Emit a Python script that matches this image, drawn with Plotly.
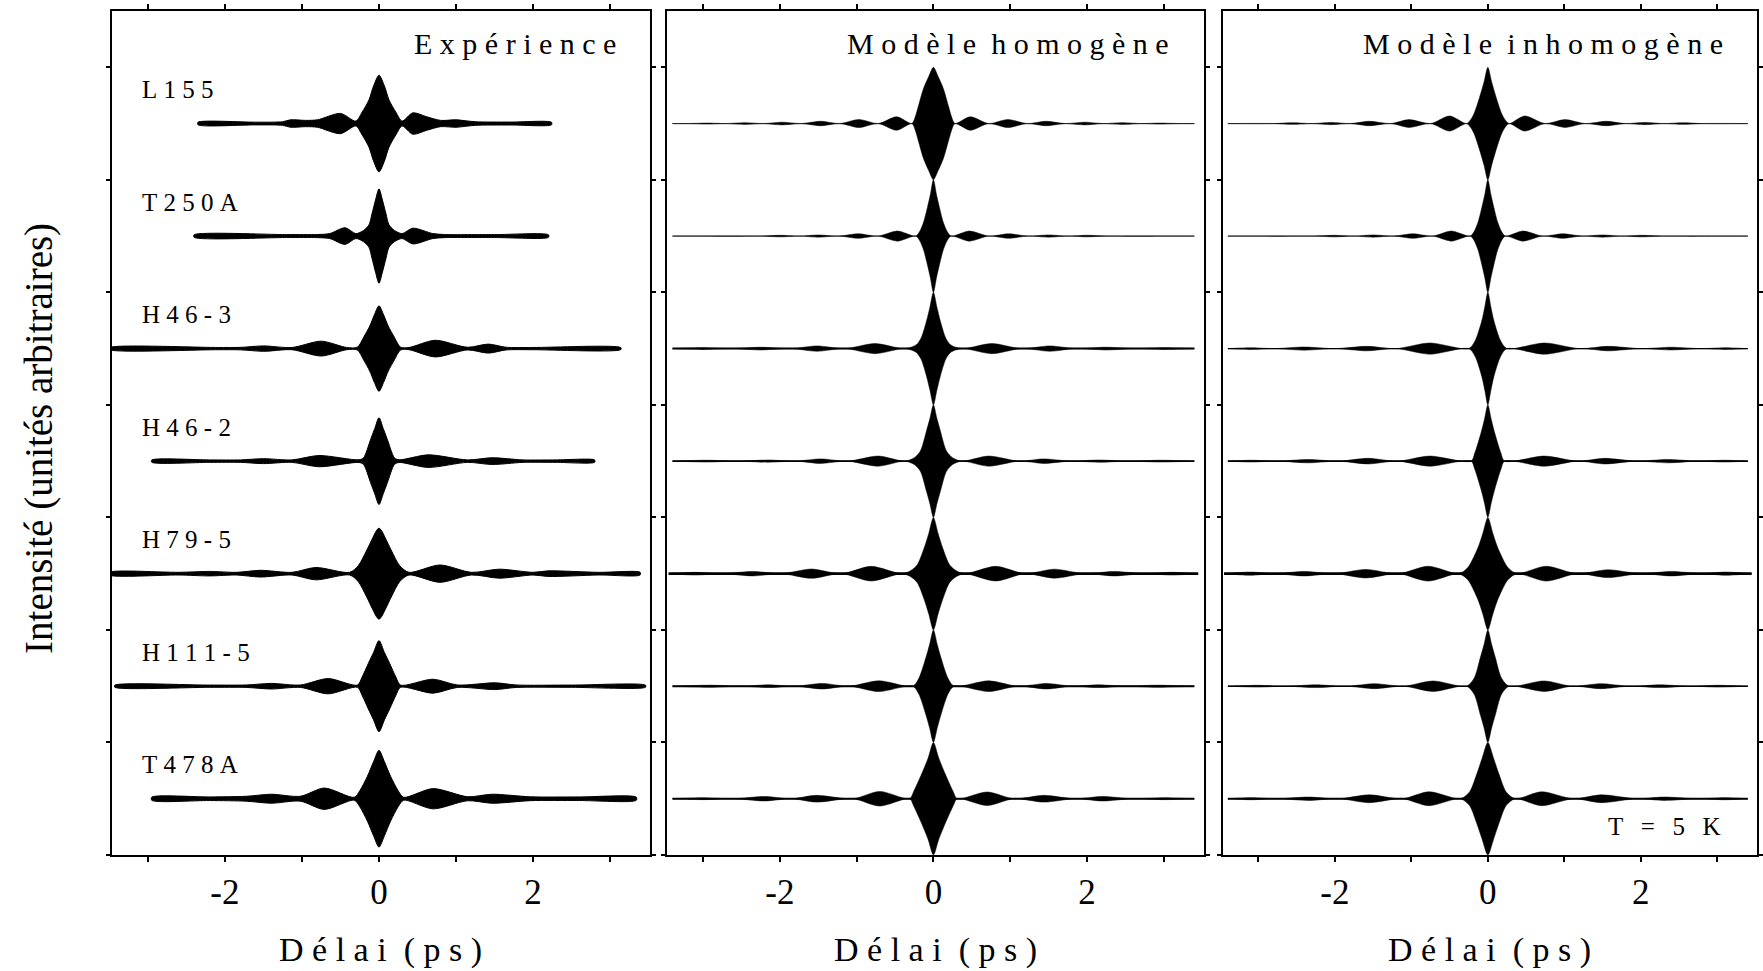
import plotly.graph_objects as go

# ---------------------------------------------------------------------------
# Data: envelopes of the interferograms.
# Each knot is (delay in ps, half-amplitude in units of row spacing).
# ---------------------------------------------------------------------------

SAMPLES = ["L155", "T250A", "H46-3", "H46-2", "H79-5", "H111-5", "T478A"]
PANEL_TITLES = ["Expérience", "Modèle homogène", "Modèle inhomogène"]
X_TICKS = [-3, -2, -1, 0, 1, 2, 3]
X_TICK_TEXT = ["", "-2", "", "0", "", "2", ""]
X_TITLE = "Délai (ps)"
Y_TITLE = "Intensité (unités arbitraires)"
TEMP_LABEL = "T = 5 K"

# -- Expérience --------------------------------------------------------------
EXP_L155 = [(-2.35, 0.011), (-1.6, 0.012), (-1.25, 0.016), (-1.15, 0.033), (-0.95, 0.028),
            (-0.8, 0.033), (-0.5, 0.09), (-0.3, 0.022), (-0.22, 0.1), (-0.13, 0.21),
            (-0.07, 0.335), (0.0, 0.43), (0.07, 0.335), (0.13, 0.21), (0.22, 0.1),
            (0.3, 0.022), (0.44, 0.095), (0.62, 0.06), (0.8, 0.028), (1.0, 0.033),
            (1.25, 0.016), (1.7, 0.013), (2.24, 0.011)]
EXP_T250A = [(-2.4, 0.011), (-1.2, 0.013), (-0.8, 0.014), (-0.64, 0.022), (-0.44, 0.074),
             (-0.3, 0.022), (-0.2, 0.05), (-0.13, 0.1), (-0.09, 0.2), (-0.045, 0.32),
             (0.0, 0.42), (0.045, 0.32), (0.09, 0.2), (0.13, 0.1), (0.2, 0.05),
             (0.3, 0.022), (0.44, 0.07), (0.70, 0.022), (0.85, 0.014), (1.5, 0.013),
             (2.2, 0.011)]
EXP_H46_3 = [(-3.5, 0.009), (-2.1, 0.01), (-1.8, 0.011), (-1.5, 0.024), (-1.13, 0.01),
             (-0.75, 0.066), (-0.42, 0.01), (-0.28, 0.013), (-0.2, 0.1), (-0.12, 0.2),
             (-0.06, 0.3), (0.0, 0.38), (0.06, 0.3), (0.12, 0.2), (0.2, 0.1),
             (0.28, 0.013), (0.39, 0.01), (0.73, 0.074), (1.15, 0.012), (1.42, 0.04),
             (1.65, 0.012), (2.0, 0.01), (3.14, 0.009)]
EXP_H46_2 = [(-2.95, 0.01), (-2.2, 0.011), (-1.8, 0.011), (-1.5, 0.022), (-1.13, 0.011),
             (-0.78, 0.05), (-0.26, 0.012), (-0.2, 0.03), (-0.11, 0.19), (-0.055, 0.29),
             (0.0, 0.386), (0.055, 0.29), (0.11, 0.19), (0.2, 0.03), (0.26, 0.012),
             (0.64, 0.056), (1.15, 0.011), (1.47, 0.03), (1.87, 0.011), (2.3, 0.011),
             (2.8, 0.01)]
EXP_H79_5 = [(-3.5, 0.012), (-2.6, 0.012), (-2.2, 0.02), (-1.85, 0.012), (-1.54, 0.03),
             (-1.13, 0.012), (-0.82, 0.055), (-0.38, 0.012), (-0.27, 0.07), (-0.165, 0.2),
             (-0.08, 0.32), (-0.035, 0.38), (0.0, 0.405), (0.035, 0.38), (0.08, 0.32),
             (0.165, 0.2), (0.27, 0.07), (0.39, 0.012), (0.79, 0.077), (1.2, 0.012),
             (1.56, 0.04), (2.0, 0.012), (2.2, 0.025), (2.85, 0.012), (3.39, 0.012)]
EXP_H111_5 = [(-3.43, 0.009), (-2.2, 0.01), (-1.72, 0.011), (-1.4, 0.025), (-1.02, 0.011),
              (-0.66, 0.068), (-0.28, 0.01), (-0.22, 0.08), (-0.14, 0.2), (-0.07, 0.3),
              (0.0, 0.405), (0.07, 0.3), (0.14, 0.2), (0.22, 0.08), (0.28, 0.01),
              (0.70, 0.062), (1.02, 0.011), (1.51, 0.03), (1.78, 0.011), (2.5, 0.01),
              (3.46, 0.009)]
EXP_T478A = [(-2.95, 0.014), (-2.2, 0.016), (-1.72, 0.022), (-1.4, 0.04), (-1.02, 0.022),
             (-0.71, 0.095), (-0.32, 0.013), (-0.25, 0.07), (-0.15, 0.2), (-0.07, 0.33),
             (0.0, 0.43), (0.07, 0.33), (0.15, 0.2), (0.25, 0.07), (0.32, 0.013),
             (0.70, 0.09), (1.15, 0.018), (1.47, 0.04), (1.97, 0.017), (2.6, 0.016),
             (3.34, 0.014)]

# -- Modèle homogène ---------------------------------------------------------
HOM_L155 = [(-3.40, 0.0), (-3.2, 0.0), (-2.95, 0.004), (-2.7, 0.0), (-2.46, 0.008),
            (-2.22, 0.0), (-1.97, 0.012), (-1.72, 0.0), (-1.47, 0.02), (-1.22, 0.0),
            (-0.97, 0.036), (-0.72, 0.0), (-0.48, 0.06), (-0.28, 0.0), (-0.24, 0.053),
            (-0.195, 0.157), (-0.13, 0.31), (-0.06, 0.42), (0.0, 0.5), (0.06, 0.42),
            (0.13, 0.31), (0.195, 0.157), (0.24, 0.053), (0.28, 0.0), (0.48, 0.06),
            (0.72, 0.0), (0.97, 0.036), (1.22, 0.0), (1.47, 0.02), (1.72, 0.0),
            (1.97, 0.012), (2.22, 0.0), (2.46, 0.008), (2.7, 0.0), (2.95, 0.004),
            (3.2, 0.0), (3.40, 0.0)]
HOM_T250A = [(-3.40, 0.0), (-2.25, 0.0), (-2.0, 0.007), (-1.75, 0.0), (-1.5, 0.01),
             (-1.23, 0.0), (-0.98, 0.02), (-0.72, 0.0), (-0.47, 0.045), (-0.23, 0.0),
             (-0.18, 0.04), (-0.13, 0.12), (-0.08, 0.25), (-0.04, 0.37), (0.0, 0.5),
             (0.04, 0.37), (0.08, 0.25), (0.13, 0.12), (0.18, 0.04), (0.23, 0.0),
             (0.47, 0.045), (0.72, 0.0), (0.98, 0.02), (1.23, 0.0), (1.5, 0.01),
             (1.75, 0.0), (2.0, 0.007), (2.25, 0.0), (3.40, 0.0)]
HOM_H46_3 = [(-3.40, 0.0), (-3.0, 0.008), (-2.65, 0.0), (-2.25, 0.012), (-1.85, 0.0),
             (-1.52, 0.024), (-1.15, 0.0), (-0.76, 0.045), (-0.40, 0.0), (-0.30, 0.01),
             (-0.22, 0.036), (-0.16, 0.095), (-0.09, 0.245), (-0.045, 0.37), (0.0, 0.5),
             (0.045, 0.37), (0.09, 0.245), (0.16, 0.095), (0.22, 0.036), (0.30, 0.01),
             (0.40, 0.0), (0.76, 0.045), (1.15, 0.0), (1.52, 0.024), (1.85, 0.0),
             (2.25, 0.012), (2.65, 0.0), (3.0, 0.008), (3.40, 0.0)]
HOM_H46_2 = [(-3.40, 0.0), (-2.95, 0.008), (-2.55, 0.0), (-2.15, 0.01), (-1.8, 0.0),
             (-1.47, 0.02), (-1.12, 0.0), (-0.72, 0.045), (-0.37, 0.0), (-0.25, 0.03),
             (-0.17, 0.09), (-0.09, 0.27), (-0.045, 0.38), (0.0, 0.5), (0.045, 0.38),
             (0.09, 0.27), (0.17, 0.09), (0.25, 0.03), (0.37, 0.0), (0.72, 0.045),
             (1.12, 0.0), (1.43, 0.02), (1.8, 0.0), (2.15, 0.01), (2.55, 0.0),
             (2.95, 0.008), (3.40, 0.0)]
HOM_H79_5 = [(-3.45, 0.0), (-3.1, 0.012), (-2.75, 0.0), (-2.35, 0.02), (-1.98, 0.0),
             (-1.59, 0.041), (-1.2, 0.0), (-0.81, 0.065), (-0.41, 0.0), (-0.30, 0.025),
             (-0.21, 0.08), (-0.12, 0.23), (-0.06, 0.36), (0.0, 0.5), (0.06, 0.36),
             (0.12, 0.23), (0.21, 0.08), (0.30, 0.025), (0.41, 0.0), (0.81, 0.065),
             (1.2, 0.0), (1.57, 0.04), (1.98, 0.0), (2.35, 0.02), (2.75, 0.0),
             (3.1, 0.012), (3.45, 0.0)]
HOM_H111_5 = [(-3.40, 0.0), (-2.9, 0.009), (-2.5, 0.0), (-2.15, 0.012), (-1.8, 0.0),
              (-1.45, 0.025), (-1.1, 0.0), (-0.71, 0.048), (-0.27, 0.0), (-0.19, 0.07),
              (-0.10, 0.25), (-0.05, 0.37), (0.0, 0.5), (0.05, 0.37), (0.10, 0.25),
              (0.19, 0.07), (0.27, 0.0), (0.72, 0.048), (1.1, 0.0), (1.48, 0.025),
              (1.8, 0.0), (2.15, 0.012), (2.5, 0.0), (2.9, 0.009), (3.40, 0.0)]
HOM_T478A = [(-3.40, 0.0), (-3.0, 0.008), (-2.6, 0.0), (-2.2, 0.02), (-1.85, 0.0),
             (-1.53, 0.03), (-1.05, 0.0), (-0.70, 0.065), (-0.31, 0.0), (-0.26, 0.06),
             (-0.16, 0.21), (-0.07, 0.36), (0.0, 0.5), (0.07, 0.36), (0.16, 0.21),
             (0.26, 0.06), (0.31, 0.0), (0.70, 0.06), (1.05, 0.0), (1.44, 0.03),
             (1.85, 0.0), (2.2, 0.02), (2.6, 0.0), (3.0, 0.008), (3.40, 0.0)]

# -- Modèle inhomogène -------------------------------------------------------
INH_L155 = [(-3.40, 0.0), (-2.8, 0.0), (-2.55, 0.007), (-2.3, 0.0), (-2.05, 0.01),
            (-1.8, 0.0), (-1.55, 0.02), (-1.27, 0.0), (-1.03, 0.035), (-0.75, 0.0),
            (-0.5, 0.067), (-0.28, 0.0), (-0.23, 0.03), (-0.18, 0.09), (-0.11, 0.23),
            (-0.05, 0.37), (0.0, 0.5), (0.05, 0.37), (0.11, 0.23), (0.18, 0.09),
            (0.23, 0.03), (0.28, 0.0), (0.48, 0.067), (0.75, 0.0), (1.01, 0.035),
            (1.27, 0.0), (1.55, 0.02), (1.8, 0.0), (2.05, 0.01), (2.3, 0.0),
            (2.55, 0.007), (2.8, 0.0), (3.40, 0.0)]
INH_T250A = [(-3.40, 0.0), (-2.3, 0.0), (-2.0, 0.007), (-1.75, 0.0), (-1.5, 0.01),
             (-1.23, 0.0), (-0.98, 0.02), (-0.72, 0.0), (-0.48, 0.045), (-0.23, 0.0),
             (-0.18, 0.04), (-0.13, 0.12), (-0.08, 0.25), (-0.04, 0.37), (0.0, 0.5),
             (0.04, 0.37), (0.08, 0.25), (0.13, 0.12), (0.18, 0.04), (0.23, 0.0),
             (0.46, 0.045), (0.72, 0.0), (0.98, 0.02), (1.23, 0.0), (1.5, 0.01),
             (1.75, 0.0), (2.0, 0.007), (2.3, 0.0), (3.40, 0.0)]
INH_H46_3 = [(-3.40, 0.0), (-3.1, 0.008), (-2.8, 0.0), (-2.4, 0.014), (-2.0, 0.0),
             (-1.58, 0.02), (-1.2, 0.0), (-0.76, 0.05), (-0.25, 0.0), (-0.17, 0.065),
             (-0.08, 0.245), (-0.04, 0.37), (0.0, 0.5), (0.04, 0.37), (0.08, 0.245),
             (0.17, 0.065), (0.25, 0.0), (0.74, 0.05), (1.2, 0.0), (1.57, 0.02),
             (2.0, 0.0), (2.4, 0.012), (2.8, 0.0), (3.1, 0.008), (3.40, 0.0)]
INH_H46_2 = [(-3.40, 0.0), (-3.1, 0.008), (-2.75, 0.0), (-2.35, 0.015), (-1.95, 0.0),
             (-1.57, 0.025), (-1.18, 0.0), (-0.76, 0.045), (-0.22, 0.0), (-0.17, 0.074),
             (-0.09, 0.25), (-0.045, 0.37), (0.0, 0.5), (0.045, 0.37), (0.09, 0.25),
             (0.17, 0.074), (0.22, 0.0), (0.74, 0.045), (1.18, 0.0), (1.52, 0.025),
             (1.95, 0.0), (2.35, 0.015), (2.75, 0.0), (3.1, 0.008), (3.40, 0.0)]
INH_H79_5 = [(-3.45, 0.0), (-3.1, 0.014), (-2.8, 0.0), (-2.4, 0.02), (-2.0, 0.0),
             (-1.6, 0.038), (-1.17, 0.0), (-0.78, 0.066), (-0.40, 0.0), (-0.32, 0.02),
             (-0.25, 0.065), (-0.13, 0.23), (-0.065, 0.36), (0.0, 0.5), (0.065, 0.36),
             (0.13, 0.23), (0.25, 0.065), (0.32, 0.02), (0.40, 0.0), (0.76, 0.066),
             (1.17, 0.0), (1.57, 0.035), (2.0, 0.0), (2.4, 0.02), (2.8, 0.0),
             (3.1, 0.014), (3.45, 0.0)]
INH_H111_5 = [(-3.40, 0.0), (-3.0, 0.008), (-2.65, 0.0), (-2.25, 0.012), (-1.85, 0.0),
              (-1.48, 0.022), (-1.1, 0.0), (-0.72, 0.047), (-0.28, 0.0), (-0.18, 0.07),
              (-0.10, 0.25), (-0.05, 0.37), (0.0, 0.5), (0.05, 0.37), (0.10, 0.25),
              (0.18, 0.07), (0.28, 0.0), (0.74, 0.047), (1.1, 0.0), (1.48, 0.022),
              (1.85, 0.0), (2.25, 0.012), (2.65, 0.0), (3.0, 0.008), (3.40, 0.0)]
INH_T478A = [(-3.40, 0.0), (-3.1, 0.009), (-2.75, 0.0), (-2.35, 0.015), (-1.95, 0.0),
             (-1.55, 0.035), (-1.12, 0.0), (-0.77, 0.062), (-0.36, 0.0), (-0.24, 0.06),
             (-0.15, 0.21), (-0.075, 0.36), (0.0, 0.5), (0.075, 0.36), (0.15, 0.21),
             (0.24, 0.06), (0.36, 0.0), (0.70, 0.062), (1.12, 0.0), (1.48, 0.035),
             (1.95, 0.0), (2.3, 0.015), (2.75, 0.0), (3.1, 0.009), (3.40, 0.0)]

EXP = [EXP_L155, EXP_T250A, EXP_H46_3, EXP_H46_2, EXP_H79_5, EXP_H111_5, EXP_T478A]
HOM = [HOM_L155, HOM_T250A, HOM_H46_3, HOM_H46_2, HOM_H79_5, HOM_H111_5, HOM_T478A]
INH = [INH_L155, INH_T250A, INH_H46_3, INH_H46_2, INH_H79_5, INH_H111_5, INH_T478A]

# ---------------------------------------------------------------------------
# Styling
# ---------------------------------------------------------------------------

SERIF = "Liberation Serif"
W, H = 1763, 971
X_RANGE = [-3.47, 3.52]
Y_RANGE = [0, 7.5]
# panel boxes in pixels (left, right), shared top/bottom
PANEL_PX = [(112, 652), (669, 1207), (1226, 1762)]
TOP_PX, BOTTOM_PX = 11, 855
# model baselines: grey hairline for the two first rows, black below
BASE_COLORS = ["#8c8c8c", "#8c8c8c", "black", "black", "black", "black", "black"]
BASE_WIDTHS = {1: [1.2, 1.2, 2.0, 1.8, 2.6, 2.0, 1.8],
               2: [1.2, 1.2, 1.3, 1.8, 2.6, 1.5, 1.8]}


def spaced(text):
    """Mimic the wide letter-spacing of the original."""
    nb = "\u00a0"
    return (nb * 2).join(nb.join(w) for w in text.split(" "))


def envelope(knots, y0):
    xs = [t for t, _ in knots]
    up = [y0 + a for _, a in knots]
    lo = [y0 - a for _, a in knots]
    return xs + xs[::-1] + [xs[0]], up + lo[::-1] + [up[0]]


fig = go.Figure()

for p, rows in enumerate([EXP, HOM, INH]):
    xa = "x" if p == 0 else f"x{p + 1}"
    ya = "y" if p == 0 else f"y{p + 1}"
    for r, knots in enumerate(rows):
        y0 = 6.5 - r
        if p > 0:
            fig.add_trace(go.Scatter(
                x=[knots[0][0], knots[-1][0]], y=[y0, y0], xaxis=xa, yaxis=ya,
                mode="lines", line=dict(color=BASE_COLORS[r], width=BASE_WIDTHS[p][r]),
                hoverinfo="skip", showlegend=False,
            ))
        xs, ys = envelope(knots, y0)
        fig.add_trace(go.Scatter(
            x=xs, y=ys, xaxis=xa, yaxis=ya, mode="lines",
            fill="toself", fillcolor="black",
            line=dict(color="black", width=1.0 if p == 0 else 0.5,
                      shape="spline", smoothing=0.8),
            hoverinfo="skip", showlegend=False,
        ))

# -- Axes ------------------------------------------------------------------
y_dom = [1 - BOTTOM_PX / H, 1 - TOP_PX / H]
common = dict(showline=True, linecolor="black", linewidth=2, mirror="ticks",
              ticks="outside", tickcolor="black", tickwidth=1.5,
              showgrid=False, zeroline=False, fixedrange=True)
layout_axes = {}
for p, (l, rpx) in enumerate(PANEL_PX):
    sfx = "" if p == 0 else str(p + 1)
    layout_axes[f"xaxis{sfx}"] = dict(
        common, domain=[l / W, rpx / W], range=X_RANGE, anchor=f"y{sfx}",
        tickvals=X_TICKS, ticktext=X_TICK_TEXT, ticklen=5,
        tickfont=dict(family=SERIF, size=35, color="black"),
    )
    layout_axes[f"yaxis{sfx}"] = dict(
        common, domain=y_dom, range=Y_RANGE, anchor=f"x{sfx}",
        tickvals=list(range(8)), showticklabels=False, ticklen=4,
    )

annotations = []
for p, title in enumerate(PANEL_TITLES):
    sfx = "" if p == 0 else str(p + 1)
    annotations.append(dict(
        text=spaced(title), xref=f"x{sfx}", yref=f"y{sfx}", x=3.1, y=7.215,
        xanchor="right", yanchor="middle", showarrow=False,
        font=dict(family=SERIF, size=30, color="black"),
    ))
    l, rpx = PANEL_PX[p]
    annotations.append(dict(
        text=spaced(X_TITLE), xref="paper", yref="paper",
        x=(l + rpx) / 2 / W, y=1 - 950 / H, xanchor="center", yanchor="middle",
        showarrow=False, font=dict(family=SERIF, size=34, color="black"),
    ))

for r, name in enumerate(SAMPLES):
    annotations.append(dict(
        text=spaced(name), xref="x", yref="y", x=-3.1, y=6.8 - r,
        xanchor="left", yanchor="middle", showarrow=False,
        font=dict(family=SERIF, size=25, color="black"),
    ))

annotations.append(dict(
    text=TEMP_LABEL.replace(" ", "\u2002\u2009"), xref="x3", yref="y3", x=3.06, y=0.25,
    xanchor="right", yanchor="middle", showarrow=False,
    font=dict(family=SERIF, size=25, color="black"),
))
annotations.append(dict(
    text=Y_TITLE, xref="paper", yref="paper", x=39 / W, y=1 - 438 / H,
    xanchor="center", yanchor="middle", textangle=-90, showarrow=False,
    font=dict(family=SERIF, size=39, color="black"),
))

fig.update_layout(
    width=W, height=H, margin=dict(l=0, r=0, t=0, b=0),
    plot_bgcolor="white", paper_bgcolor="white",
    annotations=annotations, showlegend=False,
    **layout_axes,
)

# the page's default body margin would push the figure off the window
fig.write_html("out.html", config={"displayModeBar": False},
               post_script="document.body.style.margin='0';")
